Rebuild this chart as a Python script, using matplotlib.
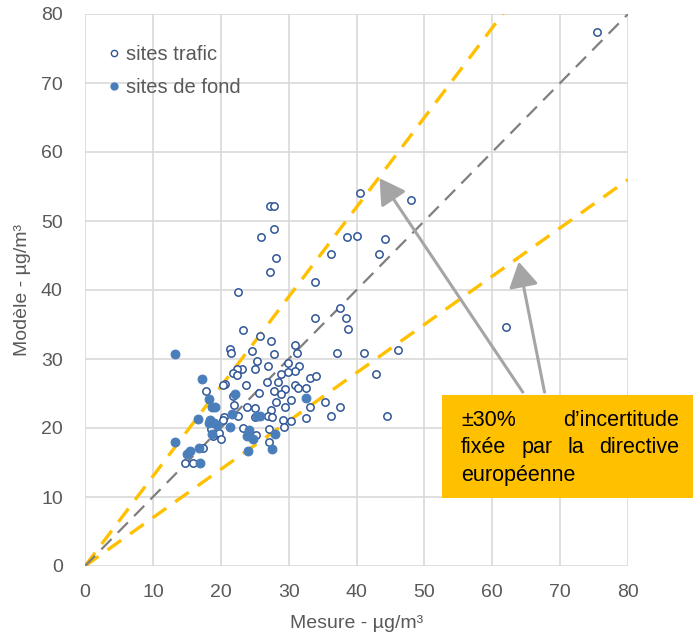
import matplotlib
matplotlib.use("Agg")
import matplotlib.pyplot as plt
from matplotlib.patches import Rectangle
from matplotlib.lines import Line2D

plt.rcParams['font.family'] = ['Liberation Sans', 'DejaVu Sans']

# Traffic sites (open markers): measured vs modelled concentration, µg/m³
trafic_x = [75.4, 48.0, 40.5, 27.2, 27.8, 25.9, 27.8, 38.6, 40.1, 44.2, 28.1, 36.2, 43.3,
            27.2, 33.9, 22.5, 23.3, 33.9, 37.6, 38.4, 38.7, 62.0, 25.8, 27.4, 30.9, 31.2,
            21.4, 21.5, 24.6, 27.8, 37.2, 41.1, 46.1, 25.3, 25.0, 23.1, 22.4, 21.8, 22.4,
            27.0, 29.9, 31.5, 30.9, 29.9, 28.9, 33.1, 34.0, 42.8, 26.8, 28.4, 23.7, 20.6,
            20.3, 30.9, 31.4, 32.5, 29.4, 27.8, 28.9, 25.6, 17.9, 21.8, 30.3, 28.1, 35.3,
            29.5, 33.1, 37.6, 23.8, 25.1, 27.4, 22.0, 26.9, 27.5, 25.1, 22.6, 20.5, 20.3,
            29.1, 30.4, 32.6, 36.2, 44.5, 29.3, 27.1, 23.3, 18.6, 18.9, 19.7, 20.0, 25.2,
            27.1, 17.4, 14.7, 15.9]
trafic_y = [77.4, 53.0, 54.1, 52.2, 52.2, 47.7, 48.8, 47.7, 47.8, 47.4, 44.6, 45.2, 45.2,
            42.6, 41.2, 39.7, 34.2, 35.9, 37.4, 35.9, 34.3, 34.6, 33.3, 32.6, 32.0, 30.9,
            31.4, 30.9, 31.1, 30.7, 30.9, 30.9, 31.3, 29.7, 28.5, 28.5, 28.5, 28.0, 27.7,
            29.0, 29.4, 29.0, 28.2, 28.1, 27.8, 27.2, 27.5, 27.8, 26.6, 26.6, 26.2, 26.4,
            26.2, 26.2, 25.8, 25.8, 25.7, 25.3, 25.0, 25.1, 25.4, 24.6, 24.1, 23.8, 23.7,
            23.1, 23.0, 23.1, 23.0, 22.9, 22.6, 23.3, 21.8, 21.6, 21.6, 21.7, 21.6, 21.1,
            21.1, 21.0, 21.4, 21.7, 21.7, 20.2, 19.9, 20.0, 19.8, 18.9, 19.3, 18.4, 19.0,
            17.9, 17.1, 15.0, 15.0]

# Background sites (filled markers)
fond_x = [13.3, 17.3, 18.2, 22.1, 18.7, 19.1, 21.7, 16.7, 18.4, 18.2, 19.0, 19.4, 21.4,
          18.7, 23.8, 24.1, 24.8, 13.3, 15.1, 15.5, 16.8, 16.9, 24.0, 25.4, 25.8, 28.0,
          27.6, 32.5]
fond_y = [30.7, 27.1, 24.2, 25.0, 23.0, 23.1, 22.0, 21.3, 21.2, 20.7, 20.7, 20.4, 20.1,
          19.2, 18.8, 19.7, 18.4, 18.0, 16.3, 16.6, 17.1, 15.0, 16.6, 21.7, 21.7, 19.1,
          17.0, 24.3]

ticks = [0, 10, 20, 30, 40, 50, 60, 70, 80]
uncertainty = 0.30
label_trafic = "sites trafic"
label_fond = "sites de fond"
xlabel = "Mesure - µg/m³"
ylabel = "Modèle - µg/m³"
note_lines = [["±30%", "d’incertitude"],
              ["fixée", "par", "la", "directive"],
              ["européenne"]]

W, H = 693, 633
fig = plt.figure(figsize=(W / 100, H / 100), dpi=100)
ax = fig.add_axes([85 / W, 1 - 566 / H, 543 / W, 552 / H])

grey_txt = '#595959'
ax.set_xlim(0, 80)
ax.set_ylim(0, 80)
ax.set_xticks(ticks)
ax.set_yticks(ticks)
ax.grid(True, color='#D9D9D9', lw=1.2)
ax.set_axisbelow(True)
for s in ax.spines.values():
    s.set_visible(False)
ax.tick_params(length=0, labelsize=14, labelcolor=grey_txt)
ax.tick_params(axis='x', pad=13)
ax.tick_params(axis='y', pad=16)
ax.set_xlabel(xlabel, fontsize=14, color=grey_txt, labelpad=10)
ax.set_ylabel(ylabel, fontsize=14, color=grey_txt, labelpad=7)

# Reference lines: 1:1 and ±30 %
xr = [0, 80]
ax.plot(xr, [v * (1 + uncertainty) for v in xr], color='#FFC000', lw=2.4,
        dashes=(5, 3.3), zorder=2)
ax.plot(xr, [v * (1 - uncertainty) for v in xr], color='#FFC000', lw=2.4,
        dashes=(5, 3.3), zorder=2)
ax.plot(xr, xr, color='#7F7F7F', lw=1.6, dashes=(6.5, 4), zorder=2)

ax.scatter(trafic_x, trafic_y, s=28, facecolor='white', edgecolor='#2F5597',
           linewidth=1.1, zorder=3)
ax.scatter(fond_x, fond_y, s=40, facecolor='#4A7EBB', edgecolor='#4A7EBB',
           linewidth=0.8, zorder=4)

handles = [Line2D([], [], ls='none', marker='o', ms=4.5, mfc='white', mec='#2F5597', mew=1.0),
           Line2D([], [], ls='none', marker='o', ms=5, mfc='#4A7EBB', mec='#4A7EBB')]
ax.legend(handles, [label_trafic, label_fond], loc='upper left',
          bbox_to_anchor=(101 / W, 1 - 37 / H), bbox_transform=fig.transFigure,
          frameon=False, fontsize=14.5, labelcolor=grey_txt, handlelength=0.5,
          handletextpad=0.35, labelspacing=0.68, borderaxespad=0)

# Arrows pointing to the ±30 % lines
arrow_kw = dict(arrowstyle='-|>,head_length=0.85,head_width=0.5', color='#A5A5A5',
                lw=2.2, shrinkA=0, shrinkB=0, mutation_scale=18)
ax.annotate('', xy=(43.4, 56.2), xytext=(64.5, 25.2), arrowprops=arrow_kw, zorder=5)
ax.annotate('', xy=(63.9, 44.1), xytext=(67.7, 25.2), arrowprops=arrow_kw, zorder=5)

# Note box
fig.patches.append(Rectangle((442 / W, 1 - 498 / H), (W - 442) / W, 103 / H,
                             transform=fig.transFigure, facecolor='#FFC000',
                             edgecolor='none', zorder=10))

fig.canvas.draw()
renderer = fig.canvas.get_renderer()
left_px, right_px = 461, 679
baselines = [426, 453, 480.5]
for i, words in enumerate(note_lines):
    arts = [fig.text(0, 1 - baselines[i] / H, w, fontsize=15.5, color='black',
                     va='baseline', ha='left', zorder=11) for w in words]
    widths = [a.get_window_extent(renderer).width for a in arts]
    if len(words) > 1 and i < len(note_lines) - 1:
        gap = (right_px - left_px - sum(widths)) / (len(words) - 1)
    else:
        gap = 6
    x = left_px
    for a, wd in zip(arts, widths):
        a.set_x(x / W)
        x += wd + gap

fig.savefig('out.png', dpi=100)
